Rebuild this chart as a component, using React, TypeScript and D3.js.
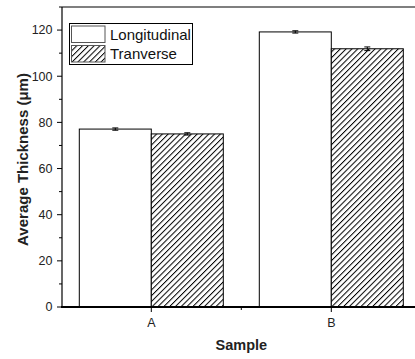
import React from 'react';
import * as d3 from 'd3';

const samples = ['A', 'B'];
const series = ['Longitudinal', 'Tranverse'];
const longitudinal = [77.1, 119.2];
const transverse = [75.0, 111.9];
const longErr = [0.5, 0.5];
const transErr = [0.5, 0.8];
const yTicks = [0, 20, 40, 60, 80, 100, 120];
const yMinor = [10, 30, 50, 70, 90, 110, 130];

const W = 415;
const H = 359;
const left = 62;
const top = 7;
const bottom = 307;

export default function App() {
    const step = 180;
    const x = d3.scaleLinear().domain([0.5, 2.5]).range([left - 0.7, left - 0.7 + 2 * step]);
    const y = d3.scaleLinear().domain([0, 130]).range([bottom, top]);
    const barW = step * 0.4;
    const font = 'Liberation Sans, Arial, sans-serif';

    const bars = samples.flatMap((s, i) => [
        { key: s + 'L', x0: x(i + 1) - barW, v: longitudinal[i], e: longErr[i], hatch: false },
        { key: s + 'T', x0: x(i + 1), v: transverse[i], e: transErr[i], hatch: true },
    ]);

    return (
        <svg width={W} height={H} style={{ position: 'absolute', left: 0, top: 0 }}>
            <defs>
                <pattern id="hatch" patternUnits="userSpaceOnUse" width={4.1} height={4.1} patternTransform="rotate(45)">
                    <rect width={4.1} height={4.1} fill="white" />
                    <line x1={0.5} y1={0} x2={0.5} y2={4.1} stroke="#000" strokeWidth={1} />
                </pattern>
            </defs>
            <rect width={W} height={H} fill="white" />

            {bars.map((b) => (
                <g key={b.key}>
                    <rect
                        x={b.x0}
                        y={y(b.v)}
                        width={barW}
                        height={y(0) - y(b.v)}
                        fill={b.hatch ? 'url(#hatch)' : 'white'}
                        stroke="#000"
                        strokeWidth={1}
                    />
                    <line x1={b.x0 + barW / 2} x2={b.x0 + barW / 2} y1={y(b.v - b.e)} y2={y(b.v + b.e)} stroke="#000" strokeWidth={1} />
                    <line x1={b.x0 + barW / 2 - 3} x2={b.x0 + barW / 2 + 3} y1={y(b.v + b.e)} y2={y(b.v + b.e)} stroke="#000" strokeWidth={1} />
                    <line x1={b.x0 + barW / 2 - 3} x2={b.x0 + barW / 2 + 3} y1={y(b.v - b.e)} y2={y(b.v - b.e)} stroke="#000" strokeWidth={1} />
                </g>
            ))}

            {/* frame */}
            <line x1={left} x2={W} y1={top} y2={top} stroke="#000" strokeWidth={1.2} />
            <line x1={left} x2={left} y1={top} y2={bottom} stroke="#000" strokeWidth={1.2} />
            <line x1={left - 1} x2={W} y1={bottom} y2={bottom} stroke="#000" strokeWidth={2} />

            {/* y axis */}
            {yTicks.map((t) => (
                <g key={'y' + t}>
                    <line x1={left - 5} x2={left} y1={y(t)} y2={y(t)} stroke="#000" strokeWidth={1} />
                    <text x={left - 9.5} y={y(t)} dy="0.35em" textAnchor="end" fontSize={12.5} fontFamily={font} fill="#222">
                        {t}
                    </text>
                </g>
            ))}
            {yMinor.map((t) => (
                <line key={'m' + t} x1={left - 3} x2={left} y1={y(t)} y2={y(t)} stroke="#000" strokeWidth={1} />
            ))}

            {/* x axis */}
            {samples.map((s, i) => (
                <g key={'x' + s}>
                    <line x1={x(i + 1)} x2={x(i + 1)} y1={bottom} y2={bottom + 5} stroke="#000" strokeWidth={1} />
                    <text x={x(i + 1)} y={bottom + 20} textAnchor="middle" fontSize={12.5} fontFamily={font} fill="#222">
                        {s}
                    </text>
                </g>
            ))}
            <line x1={x(1.5)} x2={x(1.5)} y1={bottom} y2={bottom + 3} stroke="#000" strokeWidth={1} />

            <text x={x(1.5)} y={349.5} textAnchor="middle" fontSize={14.5} fontWeight="bold" fontFamily={font} fill="#222">
                Sample
            </text>
            <text
                transform={`translate(27.5,159.5) rotate(-90)`}
                textAnchor="middle"
                fontSize={15}
                fontWeight="bold"
                fontFamily={font}
                fill="#222"
            >
                Average Thickness (μm)
            </text>

            {/* legend */}
            <rect x={69.5} y={23.5} width={123} height={41} fill="white" stroke="#000" strokeWidth={1} />
            {series.map((s, i) => (
                <g key={s}>
                    <rect
                        x={71.5}
                        y={26 + i * 19.5}
                        width={33.5}
                        height={16.5}
                        fill={i === 1 ? 'url(#hatch)' : 'white'}
                        stroke="#555"
                        strokeWidth={1}
                    />
                    <text x={110} y={34.5 + i * 19.5} dy="0.35em" fontSize={15} fontFamily={font} fill="#111">
                        {s}
                    </text>
                </g>
            ))}
        </svg>
    );
}
